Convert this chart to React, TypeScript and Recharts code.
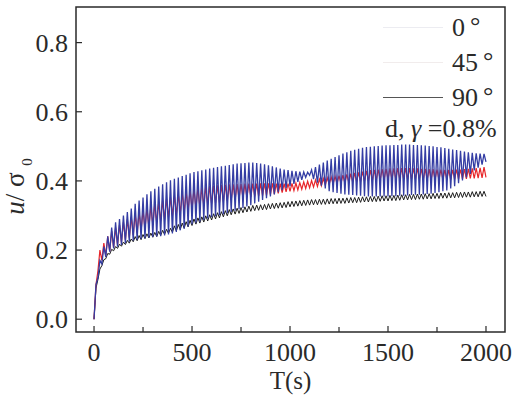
import React from 'react';
import { LineChart, Line, XAxis, YAxis, ReferenceArea } from 'recharts';

// sampling step of the loading record (s); troughs sit on even samples, peaks on odd ones
const SAMPLE_STEP = 10;

const X_DOMAIN = [-92, 2097];
const Y_DOMAIN = [-0.037, 0.903];
const X_TICKS = [0, 250, 500, 750, 1000, 1250, 1500, 1750, 2000];
const Y_TICKS = [0, 0.2, 0.4, 0.6, 0.8];

// 0°  (blue)
const BLUE_TROUGH = [
  0, 0.12, 0.16, 0.18, 0.195, 0.205, 0.21, 0.215, 0.22, 0.224, 0.228,
  0.23, 0.232, 0.234, 0.236, 0.238,
  0.239, 0.24, 0.242, 0.245, 0.248,
  0.252, 0.257, 0.262, 0.268, 0.275,
  0.279, 0.283, 0.287, 0.291, 0.295,
  0.298, 0.301, 0.304, 0.307, 0.31,
  0.314, 0.318, 0.322, 0.326, 0.33,
  0.335, 0.34, 0.345, 0.35, 0.355,
  0.361, 0.367, 0.373, 0.379, 0.385,
  0.391, 0.397, 0.403, 0.41, 0.416,
  0.405, 0.395, 0.386, 0.378, 0.37,
  0.367, 0.365, 0.363, 0.361, 0.36,
  0.359, 0.358, 0.357, 0.356, 0.355,
  0.355, 0.355, 0.355, 0.355, 0.355,
  0.356, 0.356, 0.357, 0.357, 0.358,
  0.359, 0.36, 0.36, 0.361, 0.362,
  0.363, 0.365, 0.367, 0.37, 0.372,
  0.378, 0.385, 0.393, 0.401, 0.41,
  0.42, 0.43, 0.438, 0.447, 0.455,
];
const BLUE_PEAK = [
  0.1, 0.17, 0.21, 0.24, 0.265, 0.28, 0.29, 0.3, 0.31, 0.32,
  0.334, 0.343, 0.352, 0.361, 0.37,
  0.377, 0.384, 0.39, 0.396, 0.402,
  0.406, 0.41, 0.414, 0.418, 0.422,
  0.426, 0.428, 0.431, 0.433, 0.436,
  0.438, 0.44, 0.442, 0.444, 0.446,
  0.448, 0.45, 0.451, 0.452, 0.453,
  0.453, 0.452, 0.45, 0.448, 0.445,
  0.442, 0.439, 0.436, 0.433, 0.431,
  0.429, 0.428, 0.427, 0.426, 0.425,
  0.432, 0.44, 0.447, 0.453, 0.459,
  0.464, 0.469, 0.474, 0.479, 0.483,
  0.487, 0.49, 0.493, 0.496, 0.498,
  0.499, 0.5, 0.501, 0.502, 0.503,
  0.503, 0.504, 0.504, 0.505, 0.505,
  0.505, 0.504, 0.504, 0.503, 0.502,
  0.501, 0.5, 0.498, 0.497, 0.495,
  0.493, 0.491, 0.489, 0.487, 0.485,
  0.483, 0.481, 0.48, 0.479, 0.478,
];

// 45° (red)
const RED_TROUGH = [
  0, 0.14, 0.17, 0.185, 0.197, 0.207, 0.215, 0.222, 0.229, 0.236, 0.243,
  0.249, 0.255, 0.261, 0.267, 0.273,
  0.279, 0.284, 0.289, 0.294, 0.299,
  0.303, 0.307, 0.311, 0.315, 0.319,
  0.322, 0.325, 0.328, 0.331, 0.334,
  0.336, 0.338, 0.34, 0.342, 0.344,
  0.346, 0.348, 0.35, 0.352, 0.354,
  0.355, 0.356, 0.357, 0.358, 0.36,
  0.362, 0.364, 0.366, 0.368, 0.37,
  0.372, 0.374, 0.376, 0.378, 0.38,
  0.382, 0.384, 0.386, 0.388, 0.39,
  0.391, 0.392, 0.393, 0.394, 0.395,
  0.396, 0.397, 0.398, 0.399, 0.4,
  0.401, 0.402, 0.403, 0.404, 0.405,
  0.405, 0.405, 0.405, 0.405, 0.405,
  0.405, 0.405, 0.405, 0.404, 0.404,
  0.404, 0.404, 0.404, 0.404, 0.404,
  0.404, 0.405, 0.405, 0.406, 0.406,
  0.407, 0.407, 0.408, 0.409, 0.41,
];
const RED_PEAK = [
  0.1, 0.2, 0.22, 0.24, 0.255, 0.265, 0.273, 0.281, 0.289, 0.296,
  0.303, 0.309, 0.315, 0.321, 0.327,
  0.333, 0.338, 0.343, 0.348, 0.353,
  0.357, 0.361, 0.365, 0.369, 0.373,
  0.376, 0.379, 0.381, 0.383, 0.385,
  0.386, 0.387, 0.388, 0.389, 0.39,
  0.39, 0.391, 0.391, 0.392, 0.392,
  0.392, 0.392, 0.393, 0.393, 0.393,
  0.393, 0.392, 0.392, 0.392, 0.392,
  0.393, 0.394, 0.395, 0.397, 0.399,
  0.401, 0.403, 0.405, 0.407, 0.409,
  0.411, 0.413, 0.415, 0.417, 0.419,
  0.421, 0.423, 0.425, 0.427, 0.429,
  0.431, 0.432, 0.433, 0.434, 0.435,
  0.436, 0.436, 0.437, 0.437, 0.437,
  0.437, 0.436, 0.436, 0.435, 0.435,
  0.434, 0.434, 0.433, 0.433, 0.432,
  0.432, 0.432, 0.433, 0.433, 0.434,
  0.435, 0.436, 0.437, 0.438, 0.44,
];

// 90° (black)
const BLACK_TROUGH = [
  0, 0.115, 0.155, 0.175, 0.188, 0.198, 0.205, 0.211, 0.216, 0.22, 0.224,
  0.227, 0.23, 0.233, 0.235, 0.237,
  0.239, 0.242, 0.245, 0.248, 0.251,
  0.255, 0.259, 0.263, 0.267, 0.271,
  0.275, 0.278, 0.281, 0.284, 0.287,
  0.29, 0.293, 0.296, 0.299, 0.302,
  0.304, 0.306, 0.308, 0.31, 0.312,
  0.314, 0.315, 0.316, 0.317, 0.319,
  0.32, 0.321, 0.322, 0.323, 0.325,
  0.326, 0.327, 0.328, 0.329, 0.33,
  0.331, 0.331, 0.332, 0.332, 0.333,
  0.334, 0.334, 0.335, 0.335, 0.336,
  0.337, 0.337, 0.338, 0.339, 0.339,
  0.34, 0.34, 0.341, 0.342, 0.342,
  0.343, 0.343, 0.344, 0.345, 0.345,
  0.346, 0.346, 0.347, 0.347, 0.348,
  0.348, 0.349, 0.349, 0.35, 0.35,
  0.351, 0.351, 0.352, 0.352, 0.353,
  0.353, 0.354, 0.354, 0.355, 0.355,
];
const BLACK_PEAK = [
  0.09, 0.145, 0.172, 0.19, 0.202, 0.21, 0.217, 0.223, 0.228, 0.232,
  0.239, 0.242, 0.245, 0.247, 0.249,
  0.251, 0.254, 0.257, 0.26, 0.263,
  0.27, 0.274, 0.278, 0.282, 0.286,
  0.29, 0.293, 0.296, 0.299, 0.302,
  0.305, 0.308, 0.311, 0.314, 0.317,
  0.319, 0.321, 0.323, 0.325, 0.327,
  0.329, 0.33, 0.331, 0.332, 0.334,
  0.335, 0.336, 0.337, 0.338, 0.34,
  0.341, 0.342, 0.343, 0.344, 0.345,
  0.346, 0.346, 0.347, 0.347, 0.348,
  0.349, 0.349, 0.35, 0.35, 0.351,
  0.352, 0.352, 0.353, 0.354, 0.354,
  0.355, 0.355, 0.356, 0.357, 0.357,
  0.358, 0.358, 0.359, 0.36, 0.36,
  0.361, 0.361, 0.362, 0.362, 0.363,
  0.363, 0.364, 0.364, 0.365, 0.365,
  0.366, 0.366, 0.367, 0.367, 0.368,
  0.368, 0.369, 0.369, 0.37, 0.37,
];

const SERIES = [
  { key: 'a90', name: '90', color: '#1c1c1c', width: 1, legend: '#555555', trough: BLACK_TROUGH, peak: BLACK_PEAK },
  { key: 'a45', name: '45', color: '#e8262a', width: 1.2, legend: '#f1ecec', trough: RED_TROUGH, peak: RED_PEAK },
  { key: 'a0', name: '0', color: '#343da4', width: 1.3, legend: '#ececf1', trough: BLUE_TROUGH, peak: BLUE_PEAK },
];
const LEGEND_ORDER = ['a0', 'a45', 'a90'];

const data = BLUE_TROUGH.flatMap((_, k) => {
  const rows: Record<string, number>[] = [];
  const even: Record<string, number> = { t: 2 * k * SAMPLE_STEP };
  SERIES.forEach((s) => { even[s.key] = s.trough[k]; });
  rows.push(even);
  if (k < BLUE_PEAK.length) {
    const odd: Record<string, number> = { t: (2 * k + 1) * SAMPLE_STEP };
    SERIES.forEach((s) => { odd[s.key] = s.peak[k]; });
    rows.push(odd);
  }
  return rows;
});

const FONT = '"Liberation Serif", "Times New Roman", serif';
const INK = '#2a2a2a';
const X_MARGIN = 10;
const Y_MARGIN = 8;

const XTick = ({ x, y, payload }: any) => {
  const major = payload.value % 500 === 0;
  const axisY = y - X_MARGIN;
  return (
    <g>
      <line x1={x} x2={x} y1={axisY} y2={axisY - (major ? 6 : 5)} stroke={INK} strokeWidth={1.2} />
      {major && (
        <text x={x} y={axisY + 29} textAnchor="middle" fontFamily={FONT} fontSize={26} fill={INK}>
          {payload.value}
        </text>
      )}
    </g>
  );
};

const YTick = ({ x, y, payload }: any) => {
  const axisX = x + Y_MARGIN;
  return (
    <g>
      <line x1={axisX} x2={axisX + 6} y1={y} y2={y} stroke={INK} strokeWidth={1.2} />
      <text x={x} y={y + 9} textAnchor="end" fontFamily={FONT} fontSize={26} fill={INK}>
        {payload.value.toFixed(1)}
      </text>
    </g>
  );
};

const XLabel = ({ viewBox }: any) => (
  <text x={viewBox.x + viewBox.width / 2} y={viewBox.y + 57} textAnchor="middle" fontFamily={FONT} fontSize={25} fill={INK}>
    T(s)
  </text>
);

const YLabel = ({ viewBox }: any) => {
  const cx = viewBox.x + 18;
  const cy = viewBox.y + viewBox.height / 2 + 17;
  return (
    <text x={cx} y={cy} transform={`rotate(-90 ${cx} ${cy})`} textAnchor="middle" fontFamily={FONT} fontSize={27} fill={INK}>
      <tspan fontStyle="italic">u</tspan>
      <tspan>/ σ </tspan>
      <tspan fontSize={15} dy={8}>0</tspan>
    </text>
  );
};

const LegendBox = () => (
  <div style={{ position: 'absolute', left: 383, top: 10, fontFamily: FONT, fontSize: 26, color: INK, lineHeight: '35px' }}>
    {LEGEND_ORDER.map((k) => {
      const s = SERIES.find((d) => d.key === k)!;
      return (
        <div key={k} style={{ display: 'flex', alignItems: 'center', height: 35 }}>
          <span style={{ display: 'inline-block', width: 60, height: 1, background: s.legend, marginRight: 9 }} />
          <span>{s.name}<span style={{ marginLeft: 5, position: 'relative', top: -2 }}>°</span></span>
        </div>
      );
    })}
    <div style={{ marginTop: -4, marginLeft: 2 }}>d, <i>γ</i> =0.8%</div>
  </div>
);

export default function App() {
  return (
    <div style={{ position: 'absolute', left: 0, top: 0, width: 532, height: 397, background: '#fff' }}>
      <LineChart width={532} height={397} data={data} margin={{ top: 7, right: 27, left: 6, bottom: 0 }}>
        <XAxis
          dataKey="t"
          type="number"
          domain={X_DOMAIN}
          ticks={X_TICKS}
          allowDataOverflow
          axisLine={false}
          tickLine={false}
          tickSize={0}
          tickMargin={X_MARGIN}
          height={65}
          tick={<XTick />}
          label={<XLabel />}
        />
        <YAxis
          type="number"
          domain={Y_DOMAIN}
          ticks={Y_TICKS}
          allowDataOverflow
          axisLine={false}
          tickLine={false}
          tickSize={0}
          tickMargin={Y_MARGIN}
          width={70}
          tick={<YTick />}
          label={<YLabel />}
        />
        {SERIES.map((s) => (
          <Line
            key={s.key}
            dataKey={s.key}
            type="linear"
            stroke={s.color}
            strokeWidth={s.width}
            dot={false}
            isAnimationActive={false}
          />
        ))}
        <ReferenceArea
          x1={X_DOMAIN[0]}
          x2={X_DOMAIN[1]}
          y1={Y_DOMAIN[0]}
          y2={Y_DOMAIN[1]}
          fill="none"
          stroke={INK}
          strokeWidth={1.5}
          ifOverflow="extendDomain"
        />
      </LineChart>
      <LegendBox />
    </div>
  );
}
